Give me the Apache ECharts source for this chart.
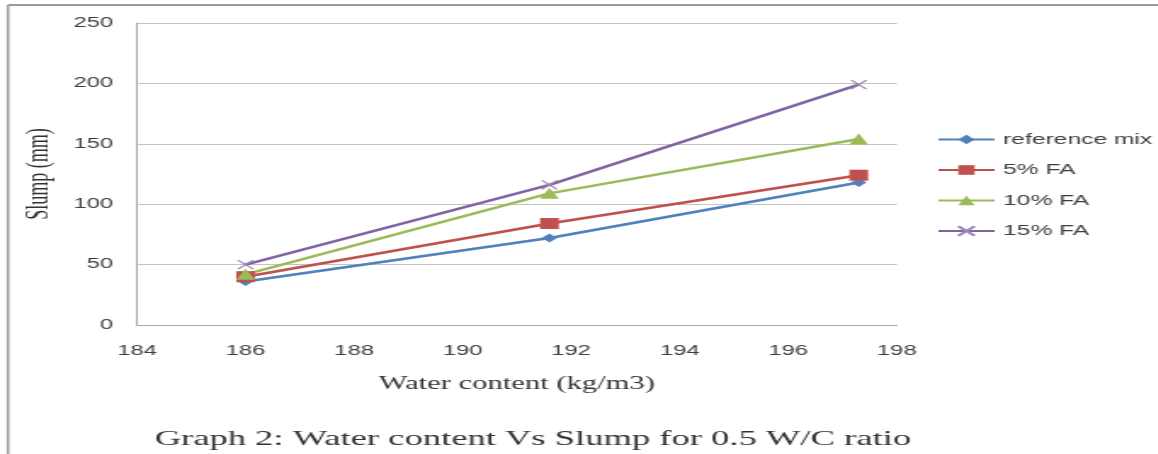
<!DOCTYPE html>
<html>
<head>
<meta charset="utf-8">
<script src="https://cdn.jsdelivr.net/npm/echarts@6/dist/echarts.min.js"></script>
<style>
html,body{margin:0;padding:0;background:#fff;overflow:hidden;}
#wrap{width:1158px;height:454px;overflow:hidden;position:relative;}
#c{width:681.18px;height:454px;transform:scaleX(1.7);transform-origin:0 0;position:absolute;left:0;top:0;}
</style>
</head>
<body>
<div id="wrap"><div id="c"></div></div>
<script>
// Data
const waterContent = [186, 191.6, 197.3];
const referenceMix = [36, 72, 118];
const fa5 = [40, 84, 124];
const fa10 = [42, 109, 154];
const fa15 = [50, 116, 199];
const seriesNames = ['reference mix', '5% FA', '10% FA', '15% FA'];
const xTicks = {min: 184, max: 198, interval: 2};
const yTicks = {min: 0, max: 250, interval: 50};

const colors = ['#4F81BD', '#C0504D', '#9BBB59', '#8064A2'];
const symbols = ['diamond', 'rect', 'triangle', 'path://M0,0L10,10M10,0L0,10'];
const symbolSizes = [9, 11, 11, 9];
const allValues = [referenceMix, fa5, fa10, fa15];

const chart = echarts.init(document.getElementById('c'));
const series = allValues.map((vals, i) => ({
  name: seriesNames[i],
  type: 'line',
  data: waterContent.map((x, j) => [x, vals[j]]),
  symbol: symbols[i],
  symbolSize: symbolSizes[i],
  showSymbol: true,
  lineStyle: {color: colors[i], width: 2.5},
  itemStyle: i === 3
    ? {color: 'rgba(0,0,0,0)', borderColor: '#9a86b8', borderWidth: 1.2}
    : {color: colors[i]},
  emphasis: {disabled: true},
  animation: false
}));

chart.setOption({
  animation: false,
  backgroundColor: '#fff',
  title: {
    text: 'Graph 2: Water content Vs Slump for 0.5 W/C ratio',
    left: 86,
    top: 423,
    textStyle: {fontFamily: 'Liberation Serif', fontSize: 21.5, fontWeight: 'normal', color: '#333'}
  },
  grid: {left: 80.6, right: 153.5, top: 23, bottom: 129, containLabel: false},
  legend: {
    orient: 'vertical',
    left: 546,
    top: 127,
    itemWidth: 33,
    itemHeight: 12,
    itemGap: 15.5,
    data: seriesNames,
    textStyle: {fontFamily: 'Liberation Sans', fontSize: 14.5, color: '#404040'}
  },
  xAxis: {
    type: 'value',
    min: xTicks.min,
    max: xTicks.max,
    interval: xTicks.interval,
    name: 'Water content (kg/m3)',
    nameLocation: 'middle',
    nameGap: 50,
    nameTextStyle: {fontFamily: 'Liberation Serif', fontSize: 18, color: '#333'},
    axisLine: {show: true, lineStyle: {color: '#a6a6a6', width: 1}},
    axisTick: {show: false},
    splitLine: {show: false},
    axisLabel: {margin: 19, fontFamily: 'Liberation Sans', fontSize: 14, color: '#404040'}
  },
  yAxis: {
    type: 'value',
    min: yTicks.min,
    max: yTicks.max,
    interval: yTicks.interval,
    name: 'Slump (mm)',
    nameLocation: 'middle',
    nameGap: 44,
    nameRotate: 90,
    nameTextStyle: {fontFamily: 'Liberation Serif', fontSize: 18, color: '#333'},
    axisLine: {show: true, lineStyle: {color: '#a6a6a6', width: 1}},
    axisTick: {show: false},
    splitLine: {show: true, lineStyle: {color: '#c4c4c4', width: 1}},
    axisLabel: {margin: 14, fontFamily: 'Liberation Sans', fontSize: 14, color: '#404040'}
  },
  graphic: [
    {type: 'line', shape: {x1: 4.7, y1: 5, x2: 681.18, y2: 5}, style: {stroke: '#9a9a9a', lineWidth: 2}, silent: true},
    {type: 'line', shape: {x1: 4.7, y1: 5, x2: 4.7, y2: 454}, style: {stroke: '#9a9a9a', lineWidth: 1.5}, silent: true}
  ],
  series: series
});
</script>
</body>
</html>
